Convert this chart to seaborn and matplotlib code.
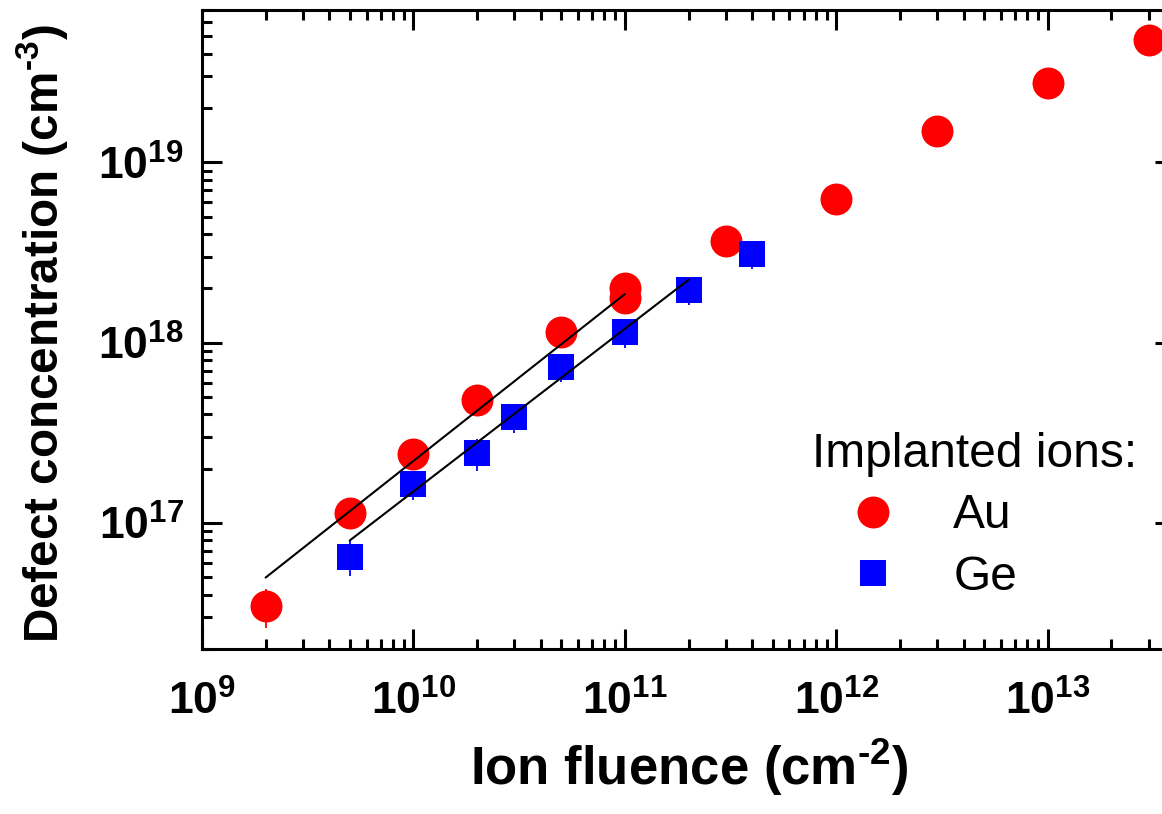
import matplotlib
matplotlib.use("Agg")
import matplotlib.pyplot as plt
from matplotlib.lines import Line2D
import pandas as pd
import seaborn as sns

# Defect concentration vs. ion fluence
au_fluence = [2e9, 5e9, 1e10, 2e10, 5e10, 1e11, 1e11, 3e11, 1e12, 3e12, 1e13, 3e13]
au_conc = [3.47e16, 1.14e17, 2.41e17, 4.8e17, 1.14e18, 2.0e18, 1.78e18,
           3.67e18, 6.3e18, 1.49e19, 2.76e19, 4.8e19]
au_err = [0.85e16, 2.1e16, 4.3e16, 8.6e16, 2.05e17, 3.6e17, 3.2e17,
          6.6e17, 1.1e18, 2.7e18, 5.0e18, 8.6e18]

ge_fluence = [5e9, 1e10, 2e10, 3e10, 5e10, 1e11, 2e11, 4e11]
ge_conc = [6.5e16, 1.64e17, 2.44e17, 3.87e17, 7.37e17, 1.14e18, 1.96e18, 3.1e18]
ge_err = [1.4e16, 3.0e16, 5.0e16, 7.0e16, 1.3e17, 2.0e17, 3.5e17, 5.5e17]

# Linear (power-law) fits in the low-fluence regime, given by their end points
au_fit_x = [2e9, 1e11]
au_fit_y = [4.98e16, 1.86e18]
ge_fit_x = [5e9, 2e11]
ge_fit_y = [8.0e16, 2.23e18]

RED = "#ff0000"
BLUE = "#0000ff"
HYPHEN = "\u2010"

sns.set_theme(style="ticks")
plt.rcParams["font.family"] = ["Liberation Sans", "DejaVu Sans"]
plt.rcParams["mathtext.default"] = "regular"
plt.rcParams["text.color"] = "black"
plt.rcParams["axes.labelcolor"] = "black"
plt.rcParams["xtick.color"] = "black"
plt.rcParams["ytick.color"] = "black"

fig = plt.figure(figsize=(11.62, 8.14), dpi=100)
ax = fig.add_axes([202 / 1162, 165 / 814, 973 / 1162, 639 / 814])
ax.set_xscale("log")
ax.set_yscale("log")

au_df = pd.DataFrame({"fluence": au_fluence, "conc": au_conc})
ge_df = pd.DataFrame({"fluence": ge_fluence, "conc": ge_conc})

ax.errorbar(au_fluence, au_conc, yerr=au_err, fmt="none", ecolor=RED,
            elinewidth=1.3, capsize=0, zorder=2)
ax.errorbar(ge_fluence, ge_conc, yerr=ge_err, fmt="none", ecolor=BLUE,
            elinewidth=1.3, capsize=0, zorder=2)

sns.scatterplot(data=au_df, x="fluence", y="conc", marker="o", s=529,
                color=RED, linewidth=0, ax=ax, zorder=3)
sns.scatterplot(data=ge_df, x="fluence", y="conc", marker="s", s=376,
                color=BLUE, linewidth=0, ax=ax, zorder=3)

sns.lineplot(x=au_fit_x, y=au_fit_y, color="black", linewidth=1.5, ax=ax, zorder=4)
sns.lineplot(x=ge_fit_x, y=ge_fit_y, color="black", linewidth=1.5, ax=ax, zorder=4)

ax.set_xlim(1e9, 4e13)
ax.set_ylim(2e16, 7e19)

for side in ["left", "right", "top", "bottom"]:
    ax.spines[side].set_linewidth(2.2)
    ax.spines[side].set_color("black")

ax.tick_params(which="both", direction="in", top=True, right=True,
               width=2.2, color="black")
ax.tick_params(which="major", length=14.5)
ax.tick_params(which="minor", length=7.2)
ax.tick_params(which="minor", axis="y", right=False)
ax.tick_params(axis="x", which="major", pad=23)
ax.tick_params(axis="y", which="major", pad=13)
for lab in ax.get_xticklabels() + ax.get_yticklabels():
    lab.set_fontsize(32)
    lab.set_fontweight("bold")
    lab.set_color("black")

ax.set_xlabel("Ion fluence (cm$^{\\mathdefault{" + HYPHEN + "2}}$)", fontsize=38,
              fontweight="bold")
ax.xaxis.set_label_coords((689.5 - 202) / 973, (649 - 785) / 639)
ax.xaxis.label.set_va("baseline")

ax.set_ylabel("Defect concentration (cm$^{\\mathdefault{" + HYPHEN + "3}}$)",
              fontsize=34.3, fontweight="bold")
ax.yaxis.label.set_va("center")
ax.yaxis.set_label_coords((42 - 202) / 973, 0.494)

handles = [
    Line2D([], [], ls="", marker="o", markersize=23, color=RED, mew=0),
    Line2D([], [], ls="", marker="s", markersize=19.4, color=BLUE, mew=0),
]
leg = ax.legend(handles, ["Au", "Ge"], title="Implanted ions:",
                loc="upper left", bbox_to_anchor=(812 / 1162, 1 - 432 / 814),
                bbox_transform=fig.transFigure, frameon=False,
                fontsize=34.5, title_fontsize=34.5, alignment="left",
                handlelength=2.55, handletextpad=0.4, borderpad=0,
                borderaxespad=0, labelspacing=0.34)
leg.get_title().set_fontweight("normal")

fig.savefig("out.png", dpi=100)
